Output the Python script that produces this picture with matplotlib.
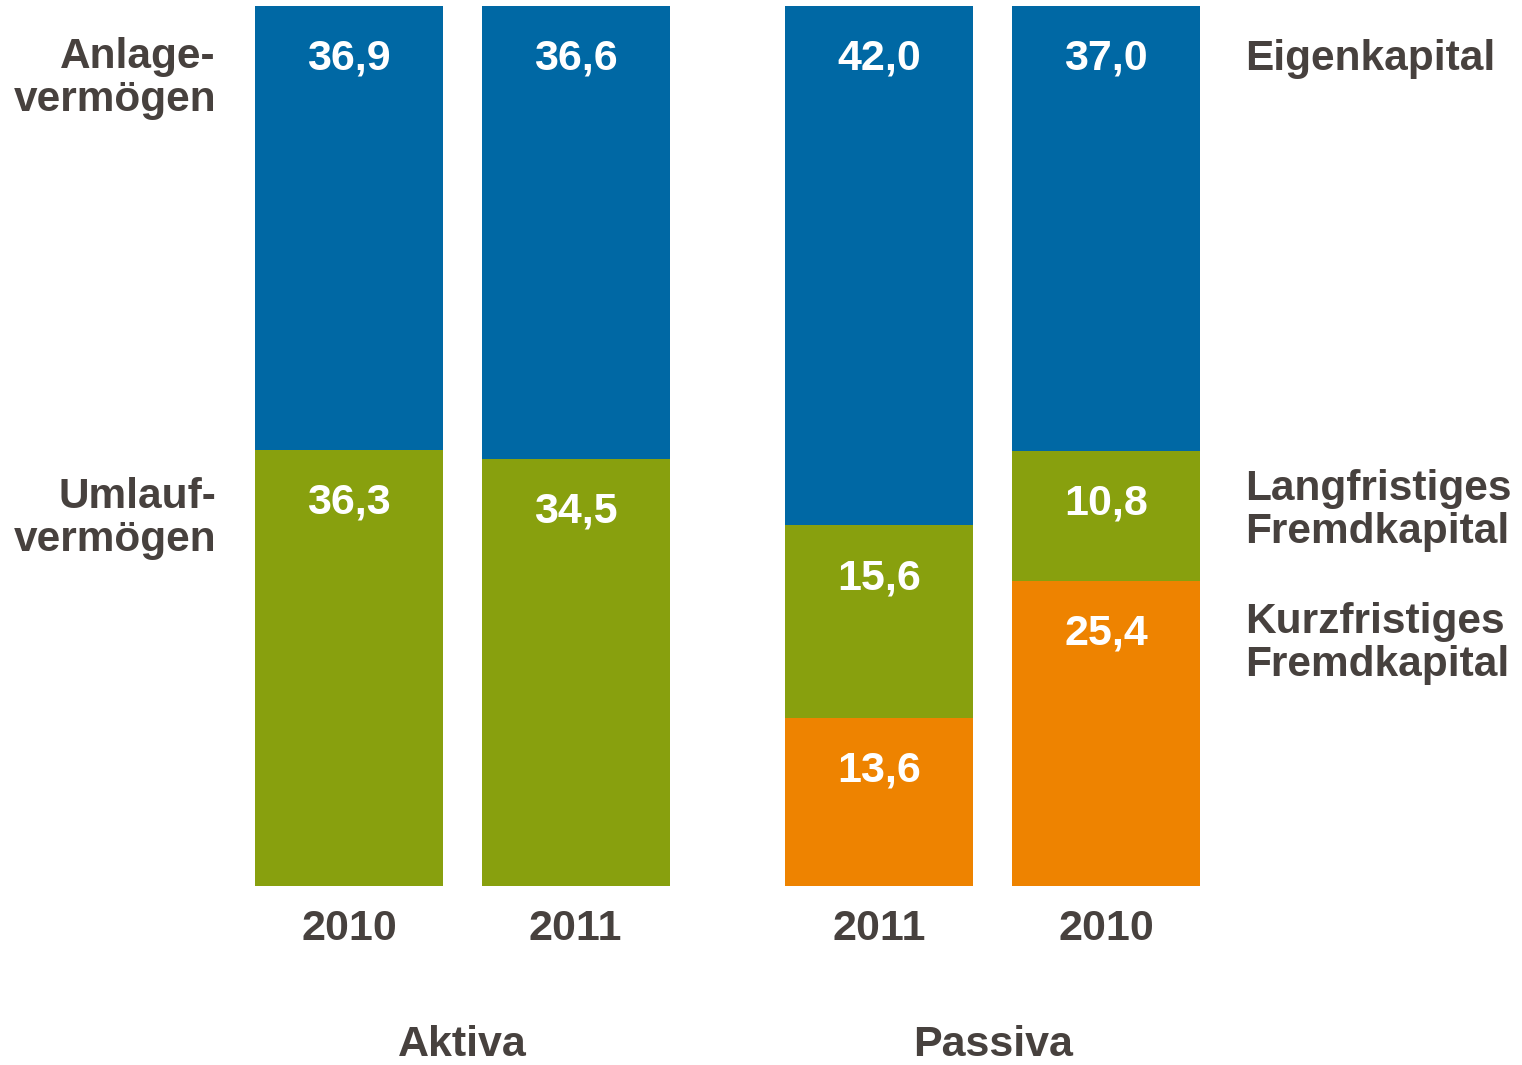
import matplotlib
matplotlib.use('Agg')
import matplotlib.pyplot as plt
import numpy as np

plt.rcParams['font.family'] = ['Liberation Sans', 'DejaVu Sans']
plt.rcParams['font.weight'] = 'bold'

# data (stacked from bottom: Kurzfristig / Umlauf, Langfristig, Eigen / Anlage)
years = ['2010', '2011', '2011', '2010']
groups = ['Aktiva', 'Passiva']
orange_vals = [0.0, 0.0, 13.6, 25.4]
green_vals = [36.3, 34.5, 15.6, 10.8]
blue_vals = [36.9, 36.6, 42.0, 37.0]

left_labels = ['Anlage-\nvermögen', 'Umlauf-\nvermögen']
right_labels = ['Eigenkapital', 'Langfristiges\nFremdkapital', 'Kurzfristiges\nFremdkapital']

BLUE = '#0068a4'
GREEN = '#88a00e'
ORANGE = '#ee8300'
TEXT = '#47413e'

W, H = 1522, 1065
fig = plt.figure(figsize=(W / 100, H / 100), dpi=100)
ax = fig.add_axes([255 / W, (H - 886) / H, (1200 - 255) / W, (886 - 6) / H])

pos = np.array([0, 1, 2.342, 3.342])
width = 0.83

o = np.array(orange_vals)
g = np.array(green_vals)
b = np.array(blue_vals)
tot = o + g + b
o_p, g_p, b_p = o / tot * 100, g / tot * 100, b / tot * 100

ax.bar(pos, o_p, width, color=ORANGE)
ax.bar(pos, g_p, width, bottom=o_p, color=GREEN)
ax.bar(pos, b_p, width, bottom=o_p + g_p, color=BLUE)

ax.set_xlim(pos[0] - width / 2, pos[-1] + width / 2)
ax.set_ylim(0, 100)
ax.axis('off')


def label(x, top, val):
    ax.annotate(f'{val:.1f}'.replace('.', ','), (x, top), xytext=(0, -64),
                textcoords='offset pixels', ha='center', va='baseline',
                color='white', fontsize=31, fontweight='bold')


for i in range(len(pos)):
    if o[i] > 0:
        label(pos[i], o_p[i], o[i])
    label(pos[i], o_p[i] + g_p[i], g[i])
    label(pos[i], 100, b[i])

# year labels under each bar
for x, yr in zip(pos, years):
    ax.annotate(yr, (x, 0), xytext=(0, -54), textcoords='offset pixels',
                ha='center', va='baseline', color=TEXT, fontsize=31)

# group labels
for gx, name in zip([(pos[0] + pos[1]) / 2, (pos[2] + pos[3]) / 2], groups):
    ax.annotate(name, (gx, 0), xytext=(0, -170), textcoords='offset pixels',
                ha='center', va='baseline', color=TEXT, fontsize=31)

# side labels
fig.text(216 / W, 1 - 37 / H, left_labels[0], ha='right', va='top',
         color=TEXT, fontsize=30.5, linespacing=1.1)
fig.text(216 / W, 1 - 477 / H, left_labels[1], ha='right', va='top',
         color=TEXT, fontsize=30.5, linespacing=1.1)
for ypx, txt in zip([39, 469, 602], right_labels):
    fig.text(1245 / W, 1 - ypx / H, txt, ha='left', va='top',
             color=TEXT, fontsize=30.5, linespacing=1.1)

fig.savefig('out.png', dpi=100)
